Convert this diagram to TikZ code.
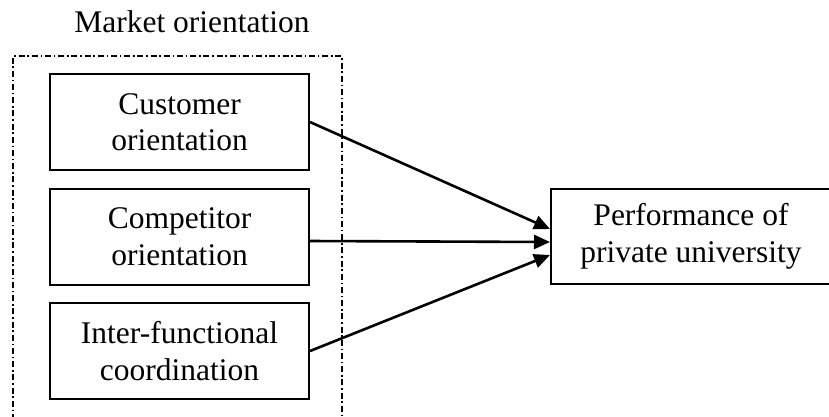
\documentclass[tikz,border=0pt]{standalone}
\usepackage{fontspec}
\setmainfont{Liberation Serif}
\usetikzlibrary{arrows.meta}
\begin{document}
\begin{tikzpicture}[x=1pt,y=-1pt,
  txt/.style={font=\fontsize{31.5}{36.5}\selectfont},
  box/.style={txt, draw, line width=2pt, minimum width=259pt, minimum height=96pt, inner sep=0pt, align=center},
  link/.style={line width=2.6pt, -{Triangle[length=16pt,width=14pt]}},
  mo/.style={line width=1.7pt, dash pattern=on 6pt off 2.8pt on 1.6pt off 2.8pt}]
\useasboundingbox (0,0) rectangle (829,416);
% group frame (open at the bottom edge)
\coordinate (fa) at (13,420);
\coordinate (fb) at (13,56);
\coordinate (fc) at (342,56);
\coordinate (fd) at (342,420);
\draw[mo] (fa) -- (fb) -- (fc) -- (fd);
\node[txt, anchor=base] (title) at (192,32) {Market orientation};
\node[box] (cust) at (179.5,122) {Customer\\orientation};
\node[box] (comp) at (179.5,236.5) {Competitor\\orientation};
\node[box] (inter) at (179.5,351) {Inter-functional\\coordination};
\node[box, minimum width=280pt, minimum height=95pt] (perf) at (691,236.5) {Performance of\\private university};
\draw[link] (cust.east) -- ([yshift=7.5pt]perf.west);
\draw[link] ([yshift=-4.5pt]comp.east) -- ([yshift=-5.5pt]perf.west);
\draw[link] (inter.east) -- ([yshift=-18.5pt]perf.west);
\end{tikzpicture}
\end{document}
